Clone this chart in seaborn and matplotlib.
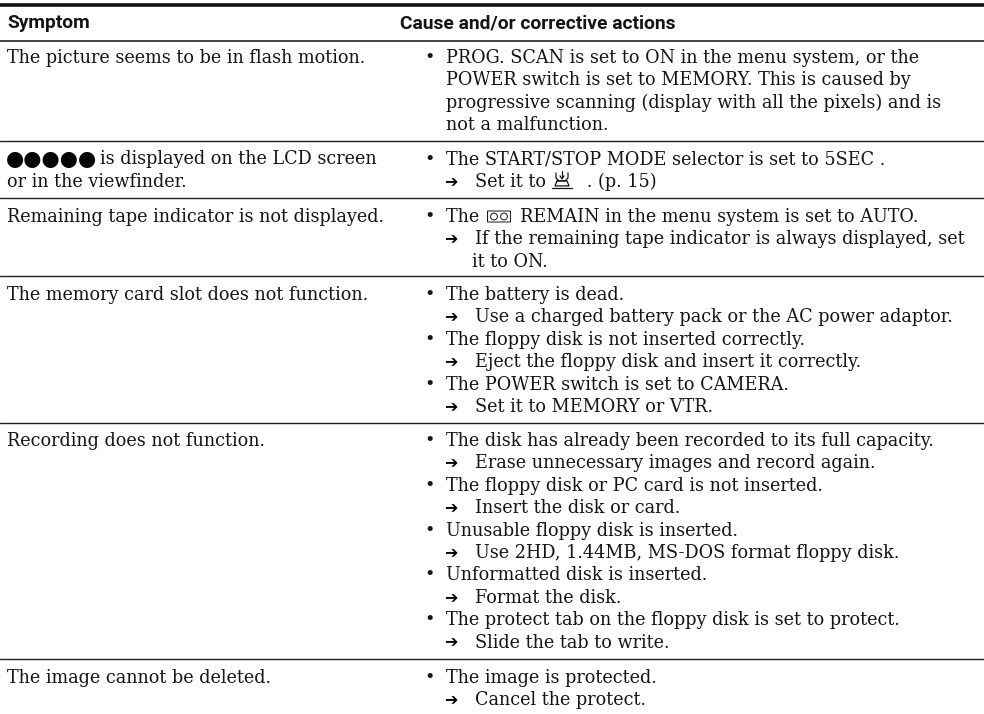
import matplotlib
matplotlib.use("Agg")
import matplotlib.pyplot as plt
from matplotlib.patches import Circle, FancyBboxPatch
import seaborn as sns

header_left = "Symptom"
header_right = "Cause and/or corrective actions"

symptoms = [
    ["The picture seems to be in flash motion."],
    ["is displayed on the LCD screen", "or in the viewfinder."],
    ["Remaining tape indicator is not displayed."],
    ["The memory card slot does not function."],
    ["Recording does not function."],
    ["The image cannot be deleted."],
]
dots = "●●●●●"

# b = bullet line, a = arrow line, c = carried over from the line above
causes = [
    [("b", "PROG. SCAN is set to ON in the menu system, or the"),
     ("c0", "POWER switch is set to MEMORY. This is caused by"),
     ("c0", "progressive scanning (display with all the pixels) and is"),
     ("c0", "not a malfunction.")],
    [("b", "The START/STOP MODE selector is set to 5SEC ."),
     ("a", "Set it to \u2003\u2003. (p. 15)")],
    [("b", "The \u2003\u2003REMAIN in the menu system is set to AUTO."),
     ("a", "If the remaining tape indicator is always displayed, set"),
     ("c1", "it to ON.")],
    [("b", "The battery is dead."),
     ("a", "Use a charged battery pack or the AC power adaptor."),
     ("b", "The floppy disk is not inserted correctly."),
     ("a", "Eject the floppy disk and insert it correctly."),
     ("b", "The POWER switch is set to CAMERA."),
     ("a", "Set it to MEMORY or VTR.")],
    [("b", "The disk has already been recorded to its full capacity."),
     ("a", "Erase unnecessary images and record again."),
     ("b", "The floppy disk or PC card is not inserted."),
     ("a", "Insert the disk or card."),
     ("b", "Unusable floppy disk is inserted."),
     ("a", "Use 2HD, 1.44MB, MS-DOS format floppy disk."),
     ("b", "Unformatted disk is inserted."),
     ("a", "Format the disk."),
     ("b", "The protect tab on the floppy disk is set to protect."),
     ("a", "Slide the tab to write.")],
    [("b", "The image is protected."),
     ("a", "Cancel the protect.")],
]

row_first_baseline = [63, 164.5, 222, 300, 446, 683]
row_rule = [141, 197.5, 276, 422.7, 659.3]
line_step = 22.4

sns.set_theme(style="white")
plt.rcParams["font.family"] = ["DejaVu Serif", "DejaVu Sans"]

fig = plt.figure(figsize=(9.84, 7.14), dpi=100)
ax = fig.add_axes([0, 0, 1, 1])
ax.set_xlim(0, 984)
ax.set_ylim(714, 0)
ax.axis("off")

size = 12.7
ink = "#151515"

ax.axhline(5, color="#111111", lw=2.6)
ax.axhline(40.5, color="#222222", lw=1.2)
for y in row_rule:
    ax.axhline(y, color="#222222", lw=1.0)

head = dict(fontsize=13.9, fontweight="bold", color=ink, va="baseline", family="Roboto")
ax.text(7, 28, header_left, **head)
ax.text(400, 28, header_right, **head)

for i, lines in enumerate(symptoms):
    for j, s in enumerate(lines):
        x = 100 if i == 1 and j == 0 else 7
        ax.text(x, row_first_baseline[i] + j * line_step, s,
                fontsize=size, color=ink, va="baseline")
ax.text(6, row_first_baseline[1] + 0.5, dots, fontsize=15, color="black",
        va="baseline", family="DejaVu Sans")

for i, lines in enumerate(causes):
    for j, (kind, s) in enumerate(lines):
        y = row_first_baseline[i] + j * line_step
        if kind == "b":
            ax.text(424, y, "•", fontsize=size, color=ink, va="baseline")
            x = 446
        elif kind == "a":
            ax.text(444, y, "➔", fontsize=11.5, color="black", va="baseline",
                    family="DejaVu Sans")
            x = 475
        elif kind == "c1":
            x = 472
        else:
            x = 446
        ax.text(x, y, s, fontsize=size, color=ink, va="baseline")

# tape symbol in the REMAIN line
ty = row_first_baseline[2]
ax.add_patch(FancyBboxPatch((488, ty - 10.5), 22, 10, boxstyle="round,pad=0.5", fill=False, ec=ink, lw=0.7))
ax.add_patch(Circle((494, ty - 5.5), 3.4, fill=False, ec=ink, lw=0.7))
ax.add_patch(Circle((504, ty - 5.5), 3.4, fill=False, ec=ink, lw=0.7))

# self timer symbol in the "Set it to" line
sy = row_first_baseline[1] + line_step
ax.plot([556, 556, 559, 565, 568, 568], [sy - 14, sy - 9, sy - 6, sy - 6, sy - 9, sy - 14], color=ink, lw=0.9)
ax.plot([562, 562], [sy - 16, sy - 9], color=ink, lw=0.9)
ax.plot([560, 562, 564], [sy - 11, sy - 8, sy - 11], color=ink, lw=0.9)
ax.plot([557, 555, 569, 567, 557], [sy - 6, sy - 1, sy - 1, sy - 6, sy - 6], color=ink, lw=0.9)
ax.plot([552, 572], [sy + 1, sy + 1], color=ink, lw=0.9)

fig.savefig("out.png", dpi=100, facecolor="white")
